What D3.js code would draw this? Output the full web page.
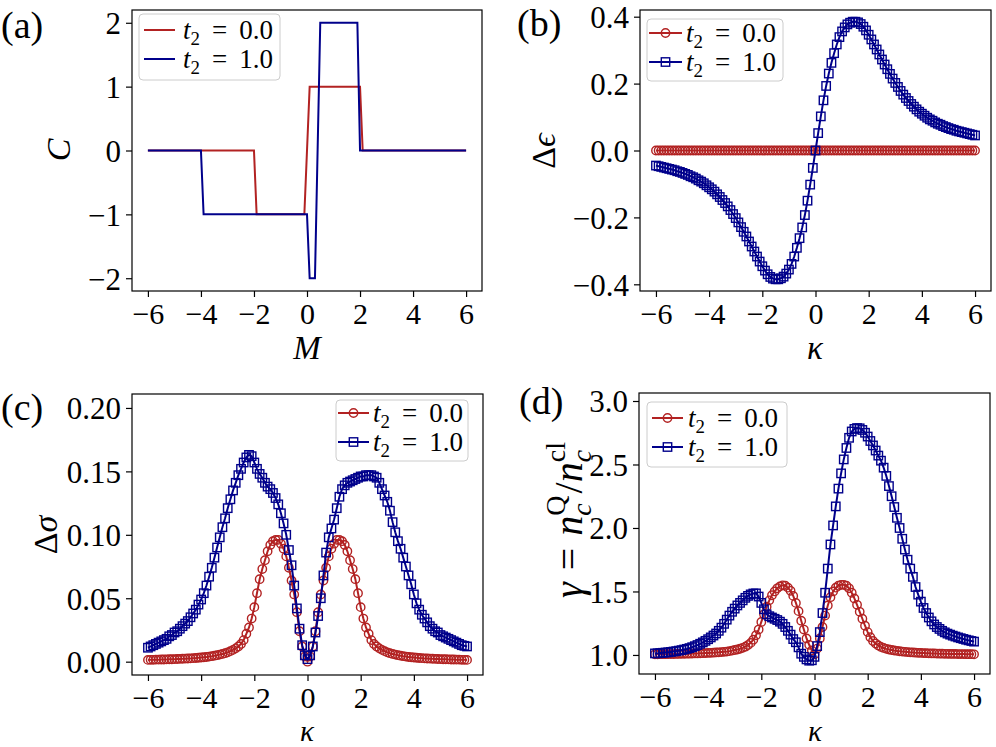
<!DOCTYPE html>
<html>
<head>
<meta charset="utf-8">
<script src="https://d3js.org/d3.v7.min.js"></script>
<style>
body { margin: 0; background: #fff; }
svg text { font-family: "Liberation Serif", "DejaVu Serif", serif; fill: #000; }
</style>
</head>
<body>
<svg id="fig" width="996" height="747"></svg>
<script>
// ---- data ----
// panel (a): Chern number vs M, vertices of the step curves
var mRed  = [-6, -2, -1.9, -0.1, 0.1, 2.0, 2.1, 6];
var cRed  = [ 0,  0,   -1,   -1,   1,   1,   0, 0];
var mBlue = [-6, -4, -3.9, 0.0, 0.1, 0.3, 0.5, 1.9, 2.0, 6];
var cBlue = [ 0,  0,   -1,  -1,  -2,  -2,   2,   2,   0, 0];

// kappa grid for panels (b)-(d)
var kappa = [-6.0,-5.9,-5.8,-5.7,-5.6,-5.5,-5.4,-5.3,-5.2,-5.1,
  -5.0,-4.9,-4.8,-4.7,-4.6,-4.5,-4.4,-4.3,-4.2,-4.1,
  -4.0,-3.9,-3.8,-3.7,-3.6,-3.5,-3.4,-3.3,-3.2,-3.1,
  -3.0,-2.9,-2.8,-2.7,-2.6,-2.5,-2.4,-2.3,-2.2,-2.1,
  -2.0,-1.9,-1.8,-1.7,-1.6,-1.5,-1.4,-1.3,-1.2,-1.1,
  -1.0,-0.9,-0.8,-0.7,-0.6,-0.5,-0.4,-0.3,-0.2,-0.1,
  0.0,
  0.1,0.2,0.3,0.4,0.5,0.6,0.7,0.8,0.9,1.0,
  1.1,1.2,1.3,1.4,1.5,1.6,1.7,1.8,1.9,2.0,
  2.1,2.2,2.3,2.4,2.5,2.6,2.7,2.8,2.9,3.0,
  3.1,3.2,3.3,3.4,3.5,3.6,3.7,3.8,3.9,4.0,
  4.1,4.2,4.3,4.4,4.5,4.6,4.7,4.8,4.9,5.0,
  5.1,5.2,5.3,5.4,5.5,5.6,5.7,5.8,5.9,6.0];

// panel (b): delta epsilon
var deRed = [0,0,0,0,0,0,0,0,0,0, 0,0,0,0,0,0,0,0,0,0, 0,0,0,0,0,0,0,0,0,0,
  0,0,0,0,0,0,0,0,0,0, 0,0,0,0,0,0,0,0,0,0, 0,0,0,0,0,0,0,0,0,0, 0,
  0,0,0,0,0,0,0,0,0,0, 0,0,0,0,0,0,0,0,0,0, 0,0,0,0,0,0,0,0,0,0,
  0,0,0,0,0,0,0,0,0,0, 0,0,0,0,0,0,0,0,0,0, 0,0,0,0,0,0,0,0,0,0];
var deBlue = [-0.045,-0.047,-0.049,-0.051,-0.053,-0.055,-0.057,-0.059,-0.062,-0.064,
  -0.067,-0.070,-0.073,-0.077,-0.080,-0.084,-0.089,-0.093,-0.098,-0.104,
  -0.110,-0.116,-0.123,-0.131,-0.139,-0.148,-0.157,-0.167,-0.178,-0.190,
  -0.202,-0.215,-0.229,-0.243,-0.257,-0.272,-0.287,-0.302,-0.317,-0.332,
  -0.346,-0.359,-0.370,-0.378,-0.383,-0.385,-0.385,-0.382,-0.377,-0.368,
  -0.356,-0.339,-0.317,-0.291,-0.262,-0.230,-0.193,-0.150,-0.102,-0.052,
  0.000,
  0.052,0.102,0.150,0.193,0.230,0.262,0.291,0.317,0.339,0.356,
  0.368,0.377,0.382,0.385,0.385,0.383,0.378,0.370,0.359,0.346,
  0.332,0.317,0.302,0.287,0.272,0.257,0.243,0.229,0.215,0.202,
  0.190,0.178,0.167,0.157,0.148,0.139,0.131,0.123,0.116,0.110,
  0.104,0.098,0.093,0.089,0.084,0.080,0.077,0.073,0.070,0.067,
  0.064,0.062,0.059,0.057,0.055,0.053,0.051,0.049,0.047,0.045];

// panel (c): delta sigma
var dsRed = [0.0014,0.0015,0.0015,0.0016,0.0016,0.0017,0.0017,0.0018,0.0019,0.0019,
  0.0020,0.0021,0.0022,0.0023,0.0024,0.0025,0.0026,0.0028,0.0029,0.0031,
  0.0033,0.0035,0.0037,0.0040,0.0043,0.0047,0.0051,0.0056,0.0061,0.0067,
  0.0074,0.0083,0.0093,0.0105,0.012,0.014,0.017,0.022,0.027,0.034,
  0.043,0.054,0.065,0.073,0.080,0.087,0.092,0.095,0.096,0.096,
  0.093,0.089,0.083,0.074,0.064,0.053,0.039,0.024,0.012,0.004,
  0.000,
  0.004,0.012,0.024,0.039,0.053,0.064,0.074,0.083,0.089,0.093,
  0.096,0.096,0.095,0.092,0.087,0.080,0.073,0.065,0.054,0.043,
  0.034,0.027,0.022,0.017,0.014,0.012,0.0105,0.0093,0.0083,0.0074,
  0.0067,0.0061,0.0056,0.0051,0.0047,0.0043,0.0040,0.0037,0.0035,0.0033,
  0.0031,0.0029,0.0028,0.0026,0.0025,0.0024,0.0023,0.0022,0.0021,0.0020,
  0.0019,0.0019,0.0018,0.0017,0.0017,0.0016,0.0016,0.0015,0.0015,0.0014];
var dsBlue = [0.011,0.012,0.013,0.014,0.015,0.016,0.017,0.018,0.020,0.021,
  0.023,0.024,0.026,0.028,0.030,0.032,0.035,0.038,0.041,0.045,
  0.049,0.054,0.060,0.067,0.074,0.082,0.090,0.098,0.106,0.113,
  0.121,0.128,0.135,0.141,0.147,0.152,0.157,0.161,0.163,0.162,
  0.157,0.152,0.148,0.145,0.141,0.138,0.136,0.133,0.129,0.124,
  0.117,0.109,0.100,0.088,0.076,0.060,0.042,0.026,0.013,0.005,
  0.002,
  0.005,0.012,0.023,0.036,0.050,0.068,0.086,0.098,0.105,0.112,
  0.121,0.130,0.136,0.139,0.141,0.142,0.143,0.144,0.145,0.146,
  0.146,0.147,0.147,0.147,0.146,0.145,0.141,0.136,0.131,0.126,
  0.119,0.110,0.102,0.095,0.089,0.082,0.075,0.068,0.061,0.053,
  0.046,0.041,0.037,0.034,0.031,0.028,0.026,0.024,0.023,0.021,
  0.020,0.019,0.018,0.017,0.016,0.015,0.014,0.013,0.0125,0.012];

// panel (d): gamma = nQ / ncl
var gRed = [1.005,1.005,1.006,1.006,1.006,1.007,1.007,1.007,1.008,1.008,
  1.009,1.009,1.010,1.010,1.011,1.012,1.012,1.013,1.014,1.015,
  1.016,1.017,1.018,1.020,1.021,1.023,1.025,1.027,1.030,1.034,
  1.039,1.043,1.049,1.056,1.065,1.078,1.095,1.120,1.155,1.200,
  1.260,1.320,1.380,1.430,1.470,1.500,1.525,1.540,1.548,1.545,
  1.530,1.505,1.465,1.410,1.345,1.270,1.200,1.130,1.080,1.035,
  1.005,
  1.050,1.130,1.220,1.310,1.390,1.455,1.500,1.530,1.545,1.552,
  1.552,1.545,1.525,1.490,1.445,1.395,1.340,1.285,1.230,1.180,
  1.140,1.110,1.090,1.075,1.063,1.055,1.048,1.043,1.039,1.035,
  1.032,1.029,1.027,1.025,1.023,1.021,1.020,1.018,1.017,1.016,
  1.015,1.014,1.013,1.012,1.012,1.011,1.010,1.010,1.009,1.009,
  1.008,1.008,1.008,1.007,1.007,1.007,1.006,1.006,1.006,1.005];
var gBlue = [1.012,1.013,1.015,1.017,1.019,1.021,1.024,1.027,1.030,1.034,
  1.038,1.043,1.048,1.054,1.061,1.069,1.078,1.088,1.099,1.111,
  1.124,1.138,1.153,1.169,1.190,1.215,1.245,1.278,1.310,1.340,
  1.365,1.390,1.410,1.430,1.450,1.465,1.477,1.484,1.485,1.460,
  1.410,1.360,1.320,1.305,1.295,1.285,1.275,1.262,1.245,1.220,
  1.190,1.160,1.125,1.100,1.060,1.010,0.985,0.965,0.955,0.958,
  0.985,
  1.070,1.180,1.330,1.490,1.680,1.870,2.020,2.170,2.310,2.430,
  2.540,2.630,2.710,2.760,2.780,2.787,2.785,2.772,2.750,2.720,
  2.685,2.650,2.610,2.570,2.530,2.475,2.410,2.330,2.250,2.165,
  2.080,2.000,1.915,1.830,1.750,1.680,1.615,1.535,1.475,1.420,
  1.370,1.330,1.295,1.265,1.240,1.220,1.205,1.190,1.178,1.168,
  1.160,1.152,1.145,1.138,1.132,1.126,1.120,1.115,1.110,1.105];

var xTicks = [-6, -4, -2, 0, 2, 4, 6];
var t2Labels = ["0.0", "1.0"];

var RED = "#b22222", BLUE = "#00008b";
var svg = d3.select("#fig");

// write t_2 = value into a text element
function t2Text(sel, val) {
  sel.append("tspan").style("font-style", "italic").text("t");
  sel.append("tspan").attr("dy", 6).style("font-size", "70%").text("2");
  sel.append("tspan").attr("dy", -6).attr("dx", 12).text("=");
  sel.append("tspan").attr("dx", 12).text(val);
}

function drawPanel(p) {
  var x = d3.scaleLinear().domain(p.xDomain).range([p.left, p.right]);
  var y = d3.scaleLinear().domain(p.yDomain).range([p.bottom, p.top]);
  var g = svg.append("g");

  svg.append("clipPath").attr("id", "clip-" + p.id).append("rect")
    .attr("x", p.left).attr("y", p.top)
    .attr("width", p.right - p.left).attr("height", p.bottom - p.top);
  var plot = g.append("g").attr("clip-path", "url(#clip-" + p.id + ")");

  var line = d3.line().x(function(d) { return x(d[0]); }).y(function(d) { return y(d[1]); });

  p.series.forEach(function(s) {
    var pts = s.xs.map(function(v, i) { return [v, s.ys[i]]; });
    plot.append("path").datum(pts).attr("d", line)
      .attr("fill", "none").attr("stroke", s.color).attr("stroke-width", 2);
    if (s.marker === "circle") {
      plot.selectAll(null).data(pts).enter().append("circle")
        .attr("cx", function(d) { return x(d[0]); })
        .attr("cy", function(d) { return y(d[1]); })
        .attr("r", 4.2).attr("fill", "none")
        .attr("stroke", s.color).attr("stroke-width", 1.4);
    } else if (s.marker === "square") {
      plot.selectAll(null).data(pts).enter().append("rect")
        .attr("x", function(d) { return x(d[0]) - 4.2; })
        .attr("y", function(d) { return y(d[1]) - 4.2; })
        .attr("width", 8.4).attr("height", 8.4).attr("fill", "none")
        .attr("stroke", s.color).attr("stroke-width", 1.4);
    }
  });

  // axes
  var xa = g.append("g").attr("transform", "translate(0," + p.bottom + ")")
    .call(d3.axisBottom(x).tickValues(xTicks).tickFormat(d3.format("d"))
      .tickSize(6).tickSizeOuter(0).tickPadding(5));
  var ya = g.append("g").attr("transform", "translate(" + p.left + ",0)")
    .call(d3.axisLeft(y).tickValues(p.yTicks).tickFormat(d3.format(p.yFormat))
      .tickSize(6).tickSizeOuter(0).tickPadding(5));
  [xa, ya].forEach(function(a) {
    a.select(".domain").remove();
    a.selectAll("line").attr("stroke", "#000").attr("stroke-width", 1.2);
    a.selectAll("text").style("font-size", "31px");
  });
  xa.selectAll("text").style("font-size", "30px").attr("dy", "0.72em");
  ya.selectAll("text").attr("dy", "0.35em");

  g.append("rect").attr("x", p.left).attr("y", p.top)
    .attr("width", p.right - p.left).attr("height", p.bottom - p.top)
    .attr("fill", "none").attr("stroke", "#000").attr("stroke-width", 1.2);

  // legend
  var L = p.legend;
  g.append("rect").attr("x", L.x).attr("y", L.y).attr("width", L.w).attr("height", L.h)
    .attr("rx", 4).attr("fill", "#fff").attr("fill-opacity", 0.8)
    .attr("stroke", "#cccccc").attr("stroke-width", 1);
  p.series.forEach(function(s, i) {
    var ry = L.rows[i];
    g.append("line").attr("x1", L.lx0).attr("x2", L.lx1).attr("y1", ry).attr("y2", ry)
      .attr("stroke", s.color).attr("stroke-width", 2);
    var mx = (L.lx0 + L.lx1) / 2;
    if (s.marker === "circle") {
      g.append("circle").attr("cx", mx).attr("cy", ry).attr("r", 4.2)
        .attr("fill", "none").attr("stroke", s.color).attr("stroke-width", 1.4);
    } else if (s.marker === "square") {
      g.append("rect").attr("x", mx - 4.2).attr("y", ry - 4.2).attr("width", 8.4).attr("height", 8.4)
        .attr("fill", "none").attr("stroke", s.color).attr("stroke-width", 1.4);
    }
    var t = g.append("text").attr("x", L.tx).attr("y", ry + 9).style("font-size", "27px");
    t2Text(t, t2Labels[i]);
  });

  // panel tag
  g.append("text").attr("x", p.tag[0]).attr("y", p.tag[1]).style("font-size", "38px").text(p.tag[2]);
  return g;
}

// (a)
var ga = drawPanel({
  id: "a", left: 132, right: 482, top: 10, bottom: 291,
  xDomain: [-6.6, 6.6], yDomain: [-2.2, 2.2], yTicks: [-2, -1, 0, 1, 2], yFormat: "d",
  series: [
    { xs: mRed, ys: cRed, color: RED, marker: null },
    { xs: mBlue, ys: cBlue, color: BLUE, marker: null }
  ],
  legend: { x: 139, y: 14, w: 141, h: 66, rows: [30, 59], lx0: 144, lx1: 175, tx: 183 },
  tag: [1, 38, "(a)"]
});
// (b)
var gb = drawPanel({
  id: "b", left: 640, right: 991, top: 10, bottom: 291,
  xDomain: [-6.6, 6.6], yDomain: [-0.42, 0.42], yTicks: [-0.4, -0.2, 0, 0.2, 0.4], yFormat: ".1f",
  series: [
    { xs: kappa, ys: deRed, color: RED, marker: "circle" },
    { xs: kappa, ys: deBlue, color: BLUE, marker: "square" }
  ],
  legend: { x: 647, y: 19, w: 136, h: 62, rows: [33, 62], lx0: 649, lx1: 682, tx: 686 },
  tag: [517, 36, "(b)"]
});
// (c)
var gc = drawPanel({
  id: "c", left: 132, right: 483, top: 394, bottom: 675,
  xDomain: [-6.6, 6.6], yDomain: [-0.0105, 0.211], yTicks: [0, 0.05, 0.1, 0.15, 0.2], yFormat: ".2f",
  series: [
    { xs: kappa, ys: dsRed, color: RED, marker: "circle" },
    { xs: kappa, ys: dsBlue, color: BLUE, marker: "square" }
  ],
  legend: { x: 336, y: 400, w: 132, h: 61, rows: [413, 442], lx0: 338, lx1: 369, tx: 373 },
  tag: [1, 420, "(c)"]
});
// (d)
var gd = drawPanel({
  id: "d", left: 639, right: 990, top: 393, bottom: 674,
  xDomain: [-6.6, 6.6], yDomain: [0.85, 3.063], yTicks: [1, 1.5, 2, 2.5, 3], yFormat: ".1f",
  series: [
    { xs: kappa, ys: gRed, color: RED, marker: "circle" },
    { xs: kappa, ys: gBlue, color: BLUE, marker: "square" }
  ],
  legend: { x: 647, y: 402, w: 140, h: 65, rows: [418, 447], lx0: 652, lx1: 683, tx: 688 },
  tag: [519, 414, "(d)"]
});

// axis labels
function xLabel(cx, by, txt, size) {
  svg.append("text").attr("x", cx).attr("y", by).attr("text-anchor", "middle")
    .style("font-size", size + "px").style("font-style", "italic").text(txt);
}
xLabel(307, 359, "M", 33);
xLabel(815, 359, "\u03ba", 33);
xLabel(307, 740.5, "\u03ba", 29);
xLabel(815, 740.5, "\u03ba", 29);

function yLabel(bx, cy, size) {
  return svg.append("text").attr("transform", "translate(" + bx + "," + cy + ") rotate(-90)")
    .attr("text-anchor", "middle").style("font-size", size + "px");
}
yLabel(70, 150, 34).append("tspan").style("font-style", "italic").text("C");
var lb = yLabel(555, 151, 34);
lb.append("tspan").text("\u0394");
lb.append("tspan").style("font-style", "italic").text("\u03f5");
var lc = yLabel(57, 535, 34);
lc.append("tspan").text("\u0394");
lc.append("tspan").style("font-style", "italic").text("\u03c3");

// gamma = n_c^Q / n_c^cl
var ld = yLabel(582, 520, 40);
ld.append("tspan").style("font-style", "italic").text("\u03b3");
ld.append("tspan").attr("dx", 12).text("=");
ld.append("tspan").attr("dx", 12).style("font-style", "italic").text("n");
var q = ld.append("tspan").attr("dy", -17).style("font-size", "28px").text("Q");
var c1 = ld.append("tspan").attr("dy", 26).style("font-size", "28px").style("font-style", "italic").text("c");
var sl = ld.append("tspan").attr("dy", -9).text("/");
ld.append("tspan").style("font-style", "italic").text("n");
var cl = ld.append("tspan").attr("dy", -17).style("font-size", "28px").text("cl");
var c2 = ld.append("tspan").attr("dy", 26).style("font-size", "28px").style("font-style", "italic").text("c");
// stack the sub- and superscripts
var wq = q.node().getComputedTextLength(), wc1 = c1.node().getComputedTextLength();
c1.attr("dx", -wq);
sl.attr("dx", Math.max(0, wq - wc1) + 2);
var wcl = cl.node().getComputedTextLength();
c2.attr("dx", -wcl);
</script>
</body>
</html>
